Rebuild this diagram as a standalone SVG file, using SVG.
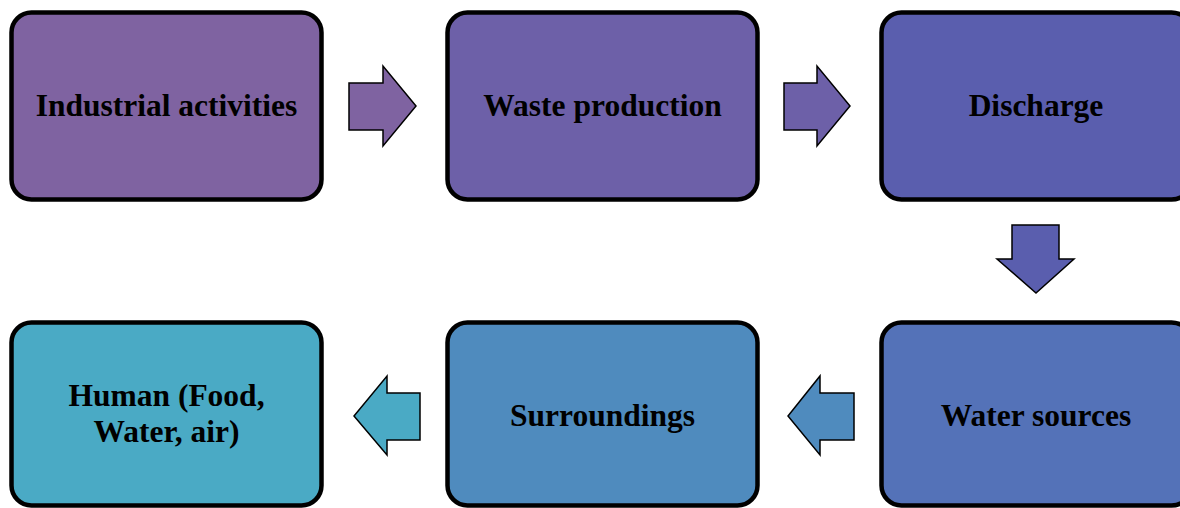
<svg xmlns="http://www.w3.org/2000/svg" width="1180" height="508" viewBox="0 0 1180 508">
  <style>
    .box { stroke: #000; stroke-width: 4.5; }
    .arrow { stroke: #000; stroke-width: 1.5; stroke-linejoin: miter; }
    .label { font-family: "Liberation Serif", "Times New Roman", serif; font-weight: bold; font-size: 31.5px; fill: #000; text-anchor: middle; }
  </style>
  <rect width="1180" height="508" fill="#fff"/>

  <!-- process steps -->
  <g id="node-industrial">
    <rect class="box" x="11.5" y="12.5" width="310" height="187" rx="20" fill="#7F63A1"/>
    <text class="label" x="166.5" y="116">Industrial activities</text>
  </g>
  <g id="node-waste">
    <rect class="box" x="447.5" y="12.5" width="310" height="187" rx="20" fill="#6D60A8"/>
    <text class="label" x="602.5" y="116">Waste production</text>
  </g>
  <g id="node-discharge">
    <rect class="box" x="881.5" y="12.5" width="310" height="187" rx="20" fill="#5A5EAE"/>
    <text class="label" x="1036" y="116">Discharge</text>
  </g>
  <g id="node-water">
    <rect class="box" x="881.5" y="322.5" width="310" height="183" rx="20" fill="#5472B8"/>
    <text class="label" x="1036" y="426">Water sources</text>
  </g>
  <g id="node-surroundings">
    <rect class="box" x="447.5" y="322.5" width="310" height="183" rx="20" fill="#4F8BBE"/>
    <text class="label" x="602.5" y="426">Surroundings</text>
  </g>
  <g id="node-human">
    <rect class="box" x="11.5" y="322.5" width="310" height="183" rx="20" fill="#4AAAC5"/>
    <text class="label" x="166.5" y="406">Human (Food,</text>
    <text class="label" x="166.5" y="442">Water, air)</text>
  </g>

  <!-- block arrows between steps -->
  <g id="connectors">
    <polygon class="arrow" fill="#7F63A1" points="349,83 383,83 383,66 416,106 383,146 383,130 349,130"/>
    <polygon class="arrow" fill="#6D60A8" points="784,83 817,83 817,66 850,106 817,146 817,130 784,130"/>
    <polygon class="arrow" fill="#5A5EAE" points="1012,225 1059,225 1059,259 1074,259 1036,293 997,259 1012,259"/>
    <polygon class="arrow" fill="#4F8BBE" points="854,393 820,393 820,376 788,416 820,455 820,440 854,440"/>
    <polygon class="arrow" fill="#4AAAC5" points="420,393 387,393 387,376 354,416 387,455 387,440 420,440"/>
  </g>
</svg>
